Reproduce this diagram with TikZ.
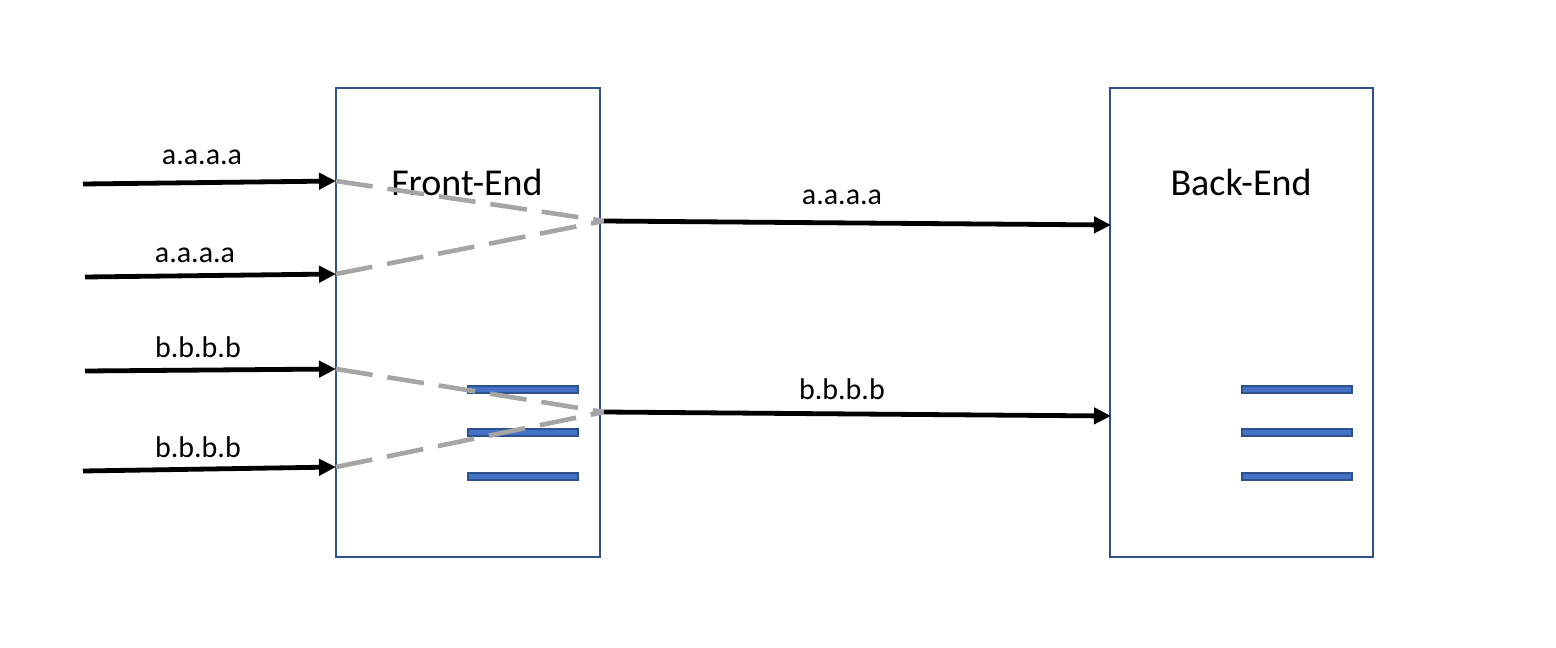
\documentclass[tikz,border=0pt]{standalone}
\usepackage{fontspec}
\setmainfont{Carlito}
\usetikzlibrary{arrows.meta}
\definecolor{boxblue}{HTML}{2F528F}
\definecolor{barfill}{HTML}{4472C4}
\definecolor{dashgray}{HTML}{A5A5A5}
\tikzset{
  panel/.style={draw=boxblue, line width=1.4pt},
  bar/.style={draw=boxblue, fill=barfill, line width=1.6pt},
  flow/.style={line width=4.8pt, -{Triangle[length=17pt,width=16pt]}},
  route/.style={draw=dashgray, line width=4.6pt, dash pattern=on 37pt off 15pt},
  lbl/.style={font=\fontsize{30}{33}\selectfont, inner sep=0pt},
  title/.style={font=\fontsize{38}{41}\selectfont, inner sep=0pt}
}
\begin{document}
\begin{tikzpicture}[x=1pt,y=-1pt]
\useasboundingbox (0,0) rectangle (1556,648);
% boxes
\draw[panel] (336,88) rectangle (600,557);
\draw[panel] (1110,88) rectangle (1373,557);
\node[title] (fe) at (467,182) {Front-End};
\node[title] (be) at (1241,182) {Back-End};
% bars
\draw[bar] (468,386) rectangle (578,393);
\draw[bar] (468,429) rectangle (578,436);
\draw[bar] (468,473) rectangle (578,480);
\draw[bar] (1242,386) rectangle (1352,393);
\draw[bar] (1242,429) rectangle (1352,436);
\draw[bar] (1242,473) rectangle (1352,480);
% coordinates
\coordinate (s1) at (83,184);
\coordinate (s2) at (85,277);
\coordinate (s3) at (85,371);
\coordinate (s4) at (83,471);
\coordinate (e1) at (336,181);
\coordinate (e2) at (336,274);
\coordinate (e3) at (336,369);
\coordinate (e4) at (336,467);
\coordinate (ma) at (604,221);
\coordinate (mb) at (604,412);
\coordinate (ba) at (1111,225);
\coordinate (bb) at (1111,416);
% dashed routes
\draw[route] (e1) -- (ma);
\draw[route] (e2) -- (ma);
\draw[route] (e3) -- (mb);
\draw[route] (e4) -- (mb);
% arrows
\draw[flow] (s1) -- (e1);
\draw[flow] (s2) -- (e2);
\draw[flow] (s3) -- (e3);
\draw[flow] (s4) -- (e4);
\draw[flow] (ma) -- (ba);
\draw[flow] (mb) -- (bb);
% labels
\node[lbl] (l1) at (202,157) {a.a.a.a};
\node[lbl] (l2) at (195,255) {a.a.a.a};
\node[lbl] (l3) at (198,347) {b.b.b.b};
\node[lbl] (l4) at (198,447) {b.b.b.b};
\node[lbl] (l5) at (842,197) {a.a.a.a};
\node[lbl] (l6) at (842,389) {b.b.b.b};
\end{tikzpicture}
\end{document}
